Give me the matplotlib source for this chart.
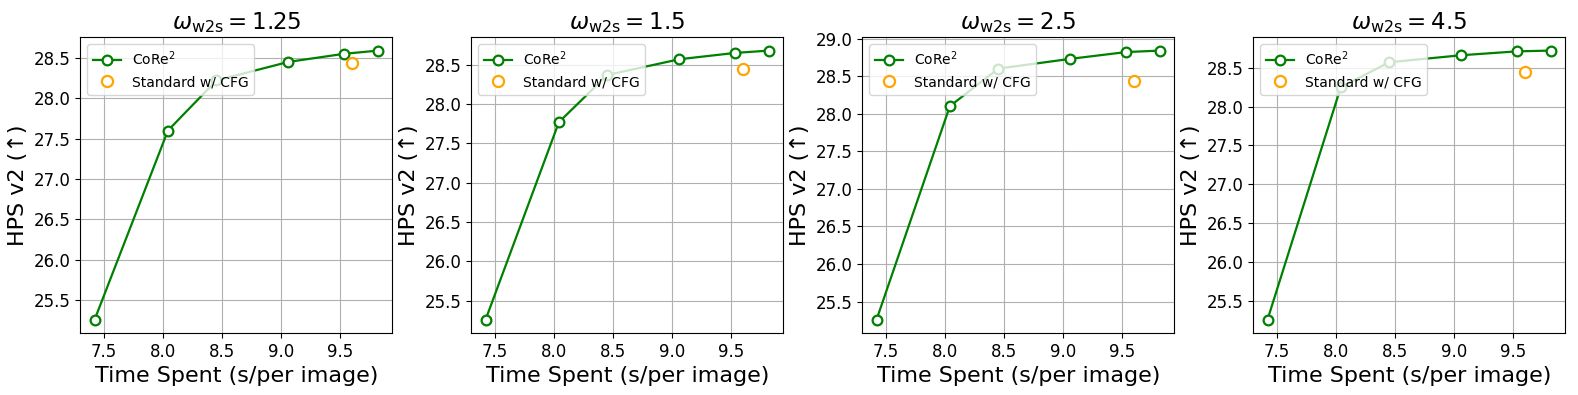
import matplotlib.pyplot as plt

# time spent (s/per image) for CoRe^2 and standard sampling
time_core = [7.42, 8.04, 8.45, 9.06, 9.53, 9.82]
time_std = 9.60

weights = ['1.25', '1.5', '2.5', '4.5']
hps_core = [
    [25.26, 27.60, 28.22, 28.45, 28.55, 28.59],
    [25.26, 27.77, 28.37, 28.57, 28.65, 28.68],
    [25.26, 28.10, 28.60, 28.73, 28.82, 28.84],
    [25.26, 28.25, 28.57, 28.66, 28.71, 28.72],
]
hps_std = [28.44, 28.45, 28.44, 28.45]

xticks = [7.5, 8.0, 8.5, 9.0, 9.5]

fig, axes = plt.subplots(1, 4, figsize=(15.78, 3.95), dpi=100)
fig.subplots_adjust(left=0.051, right=0.992, top=0.906, bottom=0.157, wspace=0.253)

for ax, w, core, std in zip(axes, weights, hps_core, hps_std):
    ax.plot(time_core, core, '-o', color='green', markerfacecolor='white',
            markeredgewidth=1.6, markersize=7, linewidth=1.6, label=r'CoRe$^2$')
    ax.plot(time_std, std, 'o', color='orange', markerfacecolor='white',
            markeredgewidth=1.6, markersize=8, linestyle='none', label='Standard w/ CFG')
    ax.set_title(r'$\omega_{\mathrm{w2s}} = $' + w, fontsize=16.5)
    ax.set_xlabel('Time Spent (s/per image)', fontsize=16)
    ax.set_ylabel('HPS v2 (↑)', fontsize=16)
    ax.set_xticks(xticks)
    ax.tick_params(labelsize=12)
    ax.grid(True)
    ax.set_axisbelow(True)
    ax.legend(loc='upper left', fontsize=10)

plt.savefig('out.png')
